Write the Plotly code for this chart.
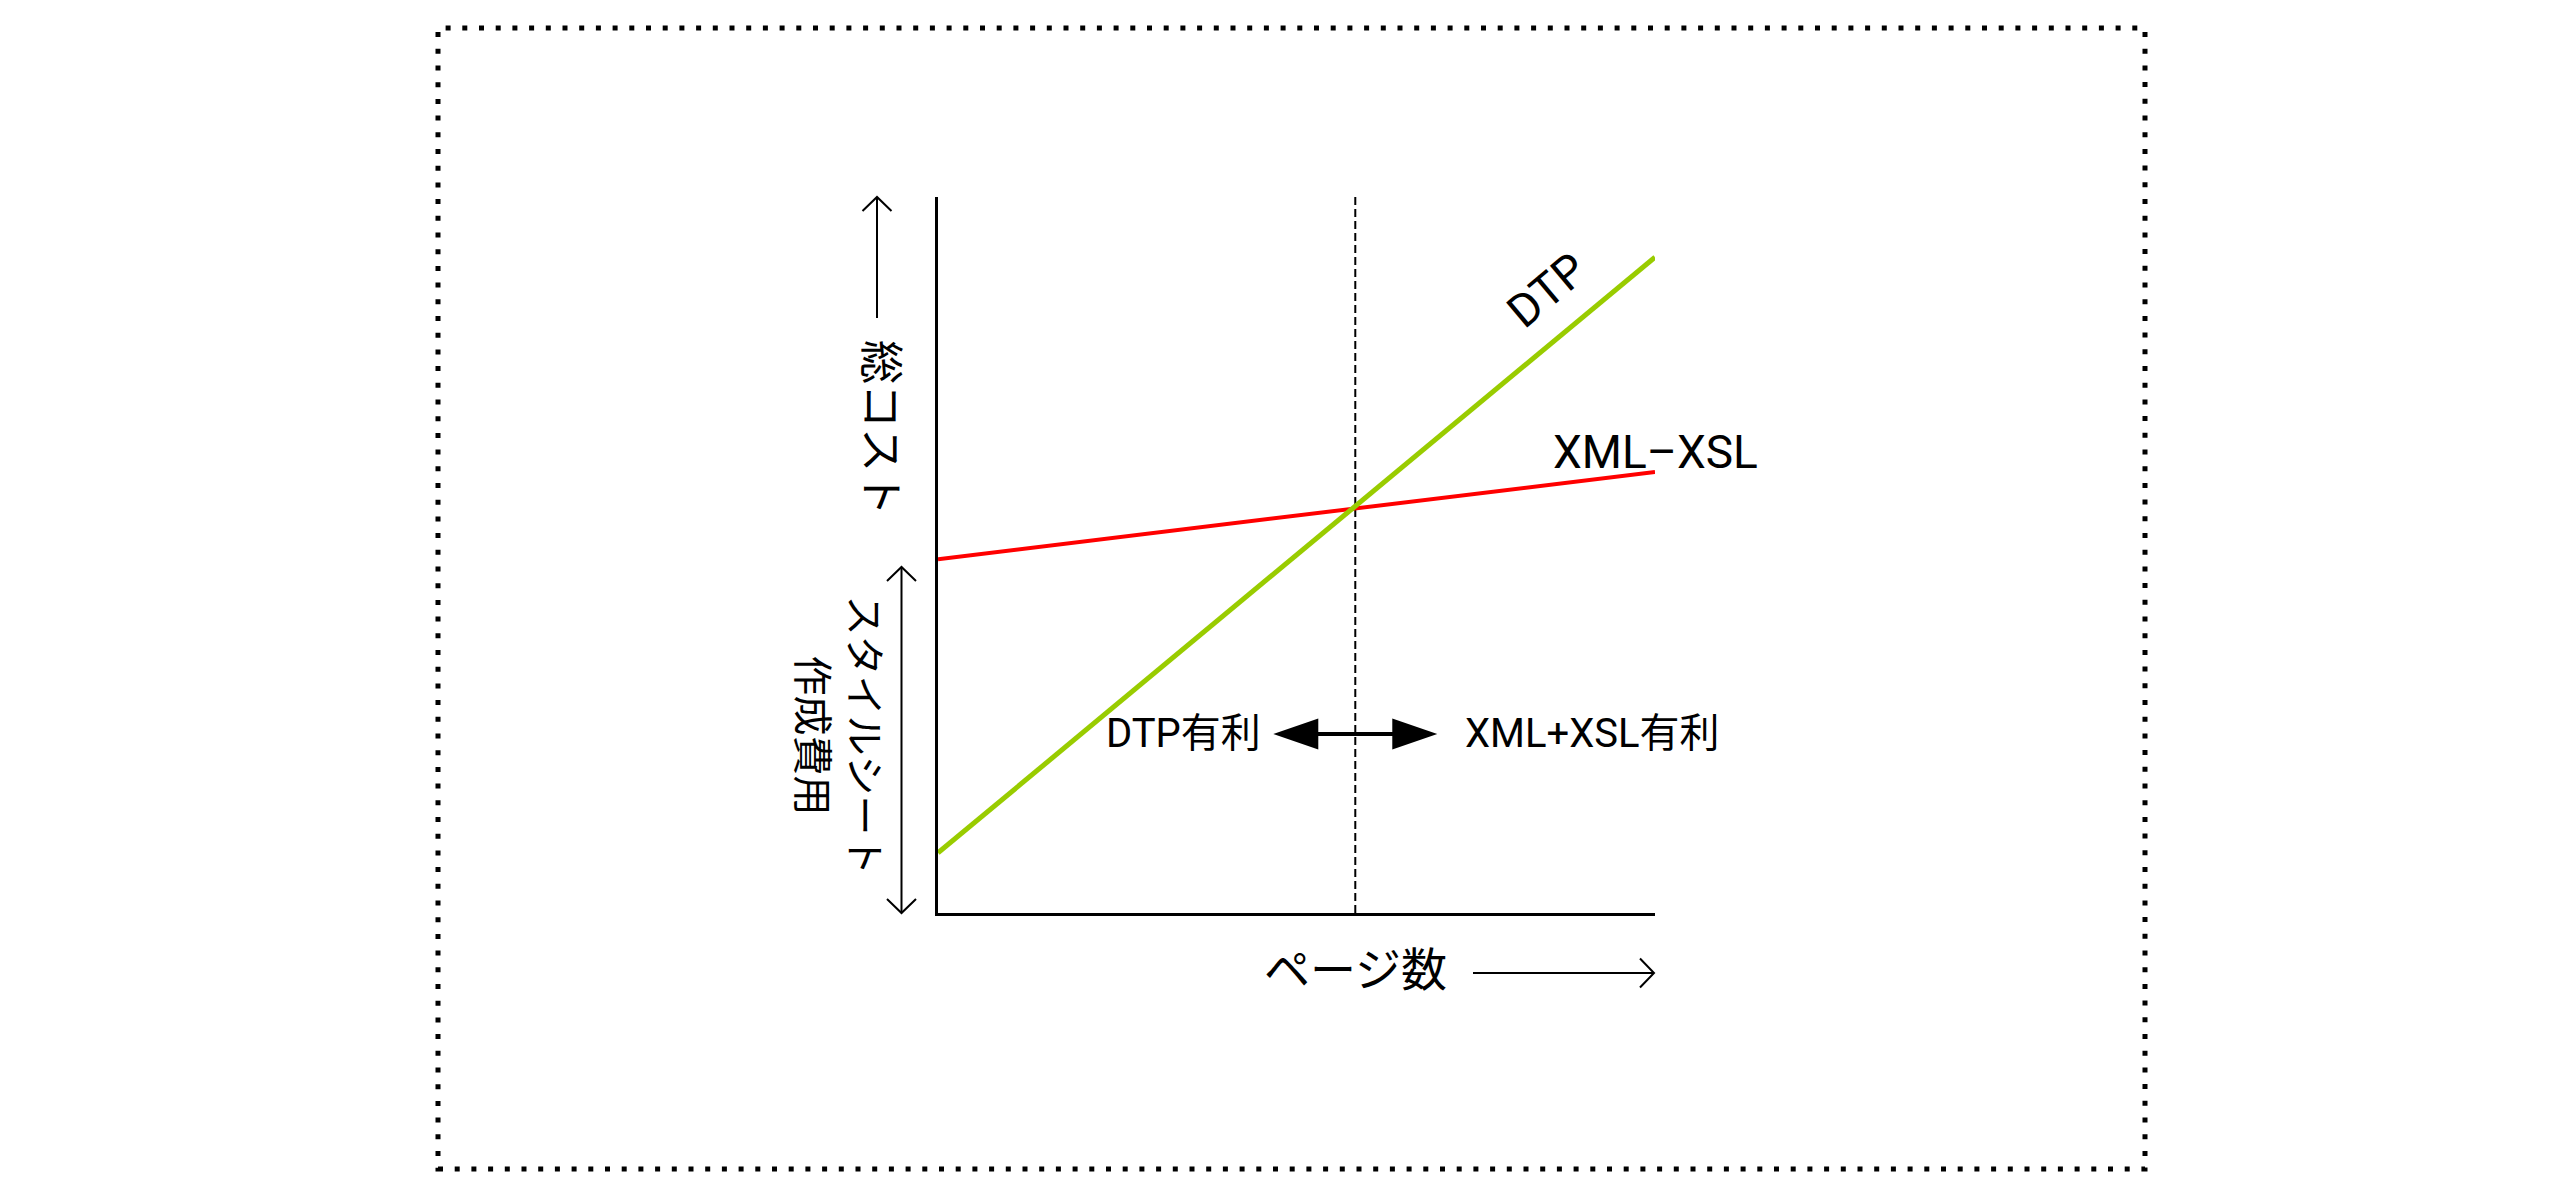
import plotly.graph_objects as go

# ---- data ----
pages = [0, 10]
dtp_cost = [0.84, 9.16]
xml_xsl_cost = [4.94, 6.16]
breakeven_pages = 5.82
advantage_arrow_level = 2.5

series_names = ["DTP", "XML\u2013XSL"]
left_label = "DTP有利"
right_label = "XML+XSL有利"
y_title = "総コスト"
y_sub_title = "スタイルシート<br>作成費用"
x_title = "ページ数"

# ---- layout constants (page pixels) ----
W, H = 2556, 1197
OFF = 8  # default body margin of the html page
FW, FH = W - 2 * OFF, H - 2 * OFF
L, R, T, B = 938, 1655, 197, 913
FONT = "Roboto, 'Noto Sans CJK JP', sans-serif"


def px(x):
    return (x - L) / (R - L)


def py(y):
    return (B - y) / (B - T)


def ppath(points, close=False):
    s = "M" + " L".join(f"{px(x):.5f},{py(y):.5f}" for x, y in points)
    return s + (" Z" if close else "")


fig = go.Figure()
fig.add_trace(go.Scatter(x=pages, y=xml_xsl_cost, mode="lines",
                         line=dict(color="#ff0000", width=4), name=series_names[1]))
fig.add_trace(go.Scatter(x=pages, y=dtp_cost, mode="lines",
                         line=dict(color="#99cc00", width=5), name=series_names[0]))

shapes = []
# dotted frame
shapes.append(dict(type="rect", xref="paper", yref="paper",
                   x0=px(438), x1=px(2145), y0=py(1169), y1=py(28),
                   line=dict(color="black", width=5, dash="5px,11.7px"), layer="above"))
# breakeven dashed line
shapes.append(dict(type="line", xref="x", yref="paper", x0=breakeven_pages, x1=breakeven_pages,
                   y0=0, y1=1, line=dict(color="black", width=2, dash="8px,4px"), layer="below"))
# double filled arrow in middle
shapes.append(dict(type="path", xref="x", yref="y", xsizemode="pixel", ysizemode="pixel",
                   xanchor=breakeven_pages, yanchor=advantage_arrow_level,
                   path="M-82,0 L-37,15.5 L-37,2 L37,2 L37,15.5 L82,0 L37,-15.5 L37,-2 L-37,-2 L-37,-15.5 Z",
                   fillcolor="black", line=dict(color="black", width=0)))

thin = dict(color="black", width=2)
# y-axis arrow (up)
shapes.append(dict(type="path", xref="paper", yref="paper",
                   path=ppath([(877, 318), (877, 197)]), line=thin))
shapes.append(dict(type="path", xref="paper", yref="paper",
                   path=ppath([(862.5, 211), (877, 197), (891.5, 211)]), line=thin))
# vertical double arrow for stylesheet cost
shapes.append(dict(type="path", xref="paper", yref="paper",
                   path=ppath([(901.5, 567), (901.5, 913)]), line=thin))
shapes.append(dict(type="path", xref="paper", yref="paper",
                   path=ppath([(887, 581), (901.5, 567), (916, 581)]), line=thin))
shapes.append(dict(type="path", xref="paper", yref="paper",
                   path=ppath([(887, 899), (901.5, 913), (916, 899)]), line=thin))
# x-axis arrow (right)
shapes.append(dict(type="path", xref="paper", yref="paper",
                   path=ppath([(1473, 973), (1654, 973)]), line=thin))
shapes.append(dict(type="path", xref="paper", yref="paper",
                   path=ppath([(1640, 958.5), (1654, 973), (1640, 987.5)]), line=thin))

annotations = [
    dict(text=y_title, x=px(880), y=py(428), textangle=90, font=dict(size=44)),
    dict(text=y_sub_title, x=px(837.5), y=py(735), textangle=90, font=dict(size=40)),
    dict(text=x_title, x=px(1355), y=py(970), font=dict(size=46)),
    dict(text=series_names[0], x=px(1547), y=py(290), textangle=-40, font=dict(size=46)),
    dict(text=series_names[1], x=px(1655), y=py(452), font=dict(size=46)),
    dict(text=left_label, x=px(1183.5), y=py(733), font=dict(size=40)),
    dict(text=right_label, x=px(1592), y=py(733), font=dict(size=40)),
]
for a in annotations:
    a.update(xref="paper", yref="paper", showarrow=False, xanchor="center", yanchor="middle")
    a["font"].update(color="black", family=FONT)

fig.update_layout(
    width=FW, height=FH,
    margin=dict(l=L - OFF, r=FW - (R - OFF), t=T - OFF, b=FH - (B - OFF), pad=0),
    paper_bgcolor="white", plot_bgcolor="white",
    showlegend=False,
    font=dict(family=FONT, color="black"),
    shapes=shapes, annotations=annotations,
    xaxis=dict(range=[0, 10], showline=True, linecolor="black", linewidth=3,
               showgrid=False, zeroline=False, showticklabels=False, ticks=""),
    yaxis=dict(range=[0, 10], showline=True, linecolor="black", linewidth=3,
               showgrid=False, zeroline=False, showticklabels=False, ticks=""),
)

fig.write_html("out.html", config={"displayModeBar": False})
